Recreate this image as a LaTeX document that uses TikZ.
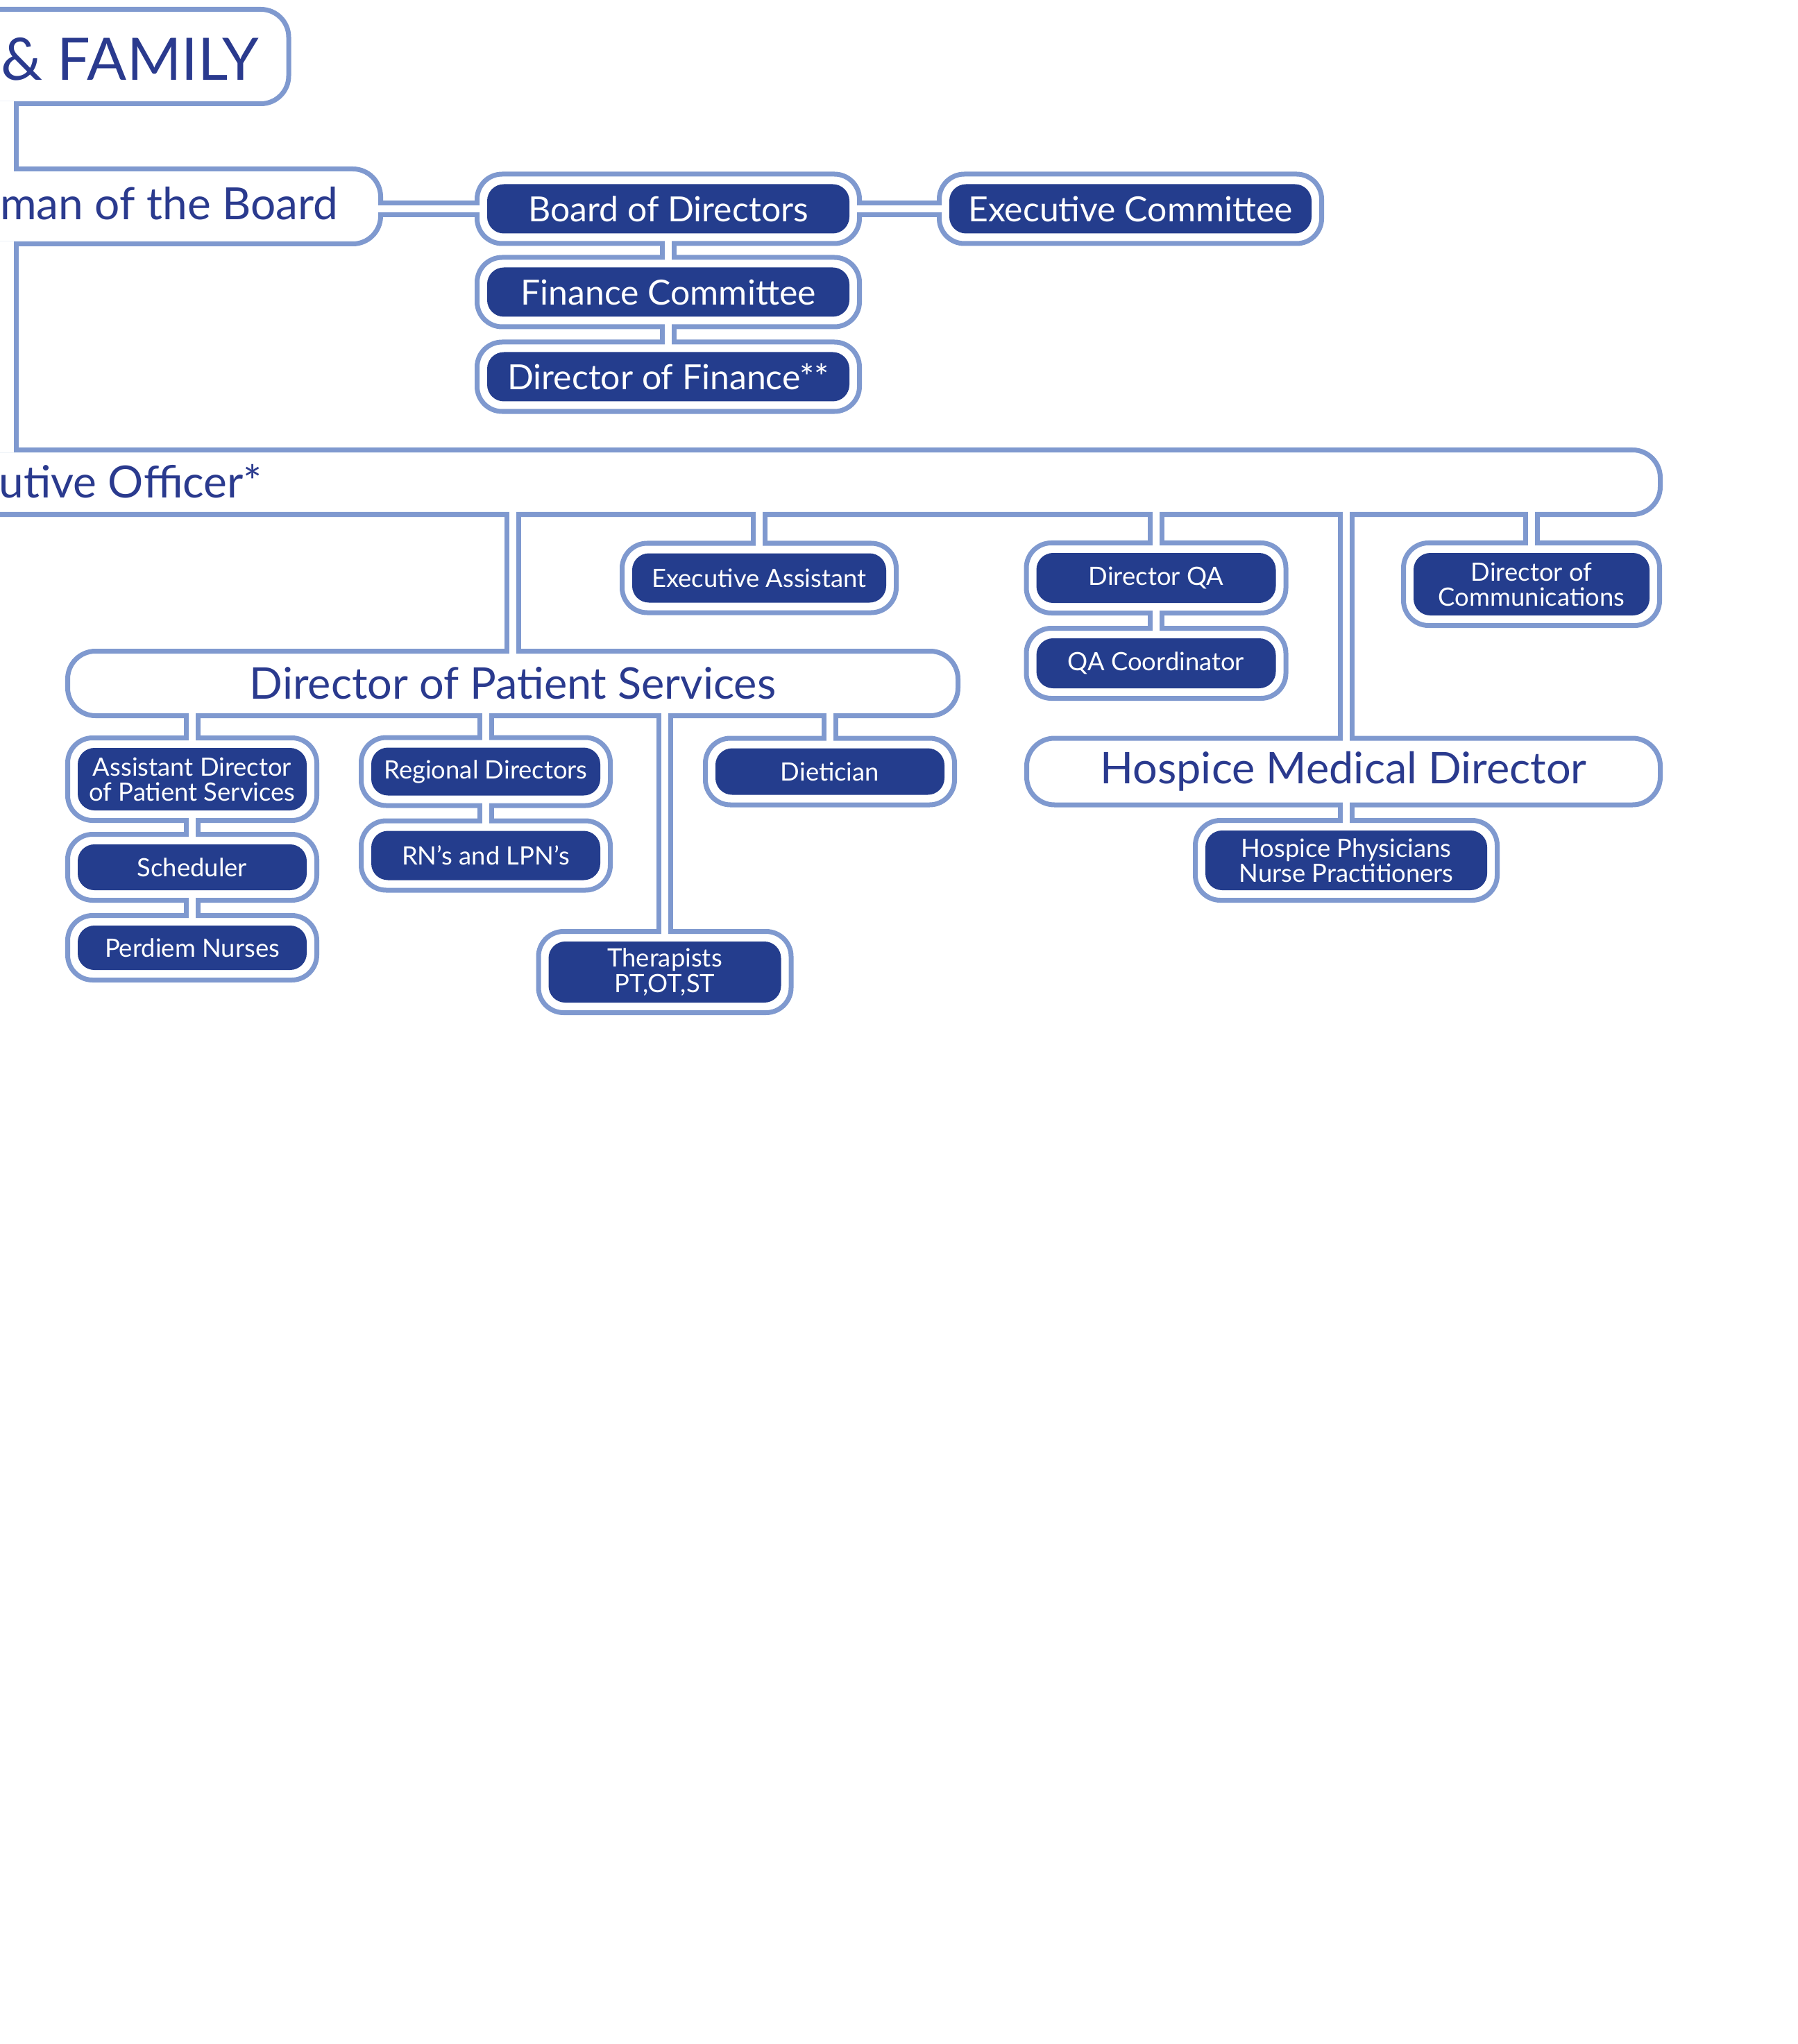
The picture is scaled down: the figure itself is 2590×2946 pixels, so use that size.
\documentclass[tikz,border=0pt]{standalone}
\usepackage{fontspec}
\setmainfont{Lato}
\definecolor{lb}{HTML}{7F99CF}
\definecolor{db}{HTML}{243D8D}
\definecolor{tb}{HTML}{2A3A8E}
\newcommand\fmed{\fontsize{14.2}{15}\selectfont}
\newcommand\fsml{\fontsize{10.35}{10.3}\selectfont}
\newcommand\fbig{\fontsize{17.9}{19}\selectfont}
\newcommand\fhuge{\fontsize{18.2}{20}\selectfont}
\newcommand\orgbox[7]{%
  \node[frm, minimum width={(#4-7)*0.01cm}, minimum height={(#5-7)*0.01cm}] (#1) at (#2,#3) {};
  \node[inb, minimum width={(#4-36)*0.01cm}, minimum height={(#5-36)*0.01cm}, font=#6] (#1-t) at (#1.center) {#7};
}
\newcommand\whbox[5]{%
  \node[wfrm, minimum width={(#4-7)*0.01cm}, minimum height={(#5-7)*0.01cm}] (#1) at (#2,#3) {};
}
\begin{document}
\begin{tikzpicture}[x=0.01cm,y=-0.01cm,
  frm/.style={draw=lb, line width=0.07cm, fill=white, rounded corners=0.36cm, outer sep=0pt, inner sep=0pt},
  wfrm/.style={draw=lb, line width=0.07cm, fill=white, rounded corners=0.4cm, outer sep=0pt, inner sep=0pt},
  inb/.style={fill=db, text=white, rounded corners=0.24cm, align=center, inner sep=0pt, outer sep=0pt},
  wtext/.style={text=tb, inner sep=0pt, outer sep=0pt},
  conn/.style={draw=lb, line width=0.24cm, postaction={draw=white, line width=0.10cm, shorten <=-0.045cm, shorten >=-0.045cm}},
  sline/.style={draw=lb, line width=0.07cm, line cap=square}
]
\useasboundingbox (0,0) rectangle (2590,2946);
\clip (0,0) rectangle (2590,2946);
\fill[white] (0,0) rectangle (2590,2946);

% big white boxes
\whbox{fam}{60}{81.5}{719}{143}
\whbox{chr}{126}{297.5}{852}{115}
\whbox{ceo}{1048}{695}{2696}{100}
\whbox{dps}{739}{985}{1290}{100}
\whbox{hmd}{1936}{1112}{920}{103}

\node[wtext, anchor=base east, font=\fontsize{24}{26}\selectfont] (famt) at (373,116) {\& FAMILY};
\node[wtext, anchor=base east, font=\fhuge] (chrt) at (487,317) {man of the Board};
\node[wtext, anchor=base east, font=\fhuge] (ceot) at (378,717) {utive Officer*};
\node[wtext, font=\fbig] (dpst) at (dps.center) {Director of Patient Services};
\node[wtext, font=\fbig] (hmdt) at (hmd.center) {Hospice Medical Director};

% dark boxes
\orgbox{bod}{963}{301}{558}{107}{\fmed}{Board of Directors}
\orgbox{exc}{1629}{301}{558}{107}{\fmed}{Executive Committee}
\orgbox{fin}{963}{421}{558}{107}{\fmed}{Finance Committee}
\orgbox{dfi}{963}{543}{558}{107}{\fmed}{Director of Finance**}
\orgbox{ea}{1094}{833}{402}{107}{\fsml}{Executive Assistant}
\orgbox{dqa}{1666}{833}{381}{108}{\fsml}{Director QA}
\orgbox{qac}{1666}{956}{381}{108}{\fsml}{QA Coordinator}
\orgbox{dcm}{2207}{842}{376}{126}{\fsml}{Director of\\Communications}
\orgbox{asd}{277}{1123}{366}{126}{\fsml}{Assistant Director\\of Patient Services}
\orgbox{sch}{277}{1250}{366}{102}{\fsml}{Scheduler}
\orgbox{pdn}{277}{1366}{366}{100}{\fsml}{Perdiem Nurses}
\orgbox{reg}{700}{1112}{366}{105}{\fsml}{Regional Directors}
\orgbox{rnl}{700}{1233}{366}{107}{\fsml}{RN’s and LPN’s}
\orgbox{die}{1196}{1112}{366}{103}{\fsml}{Dietician}
\orgbox{thr}{958}{1401}{371}{124}{\fsml}{Therapists\\PT,OT,ST}
\orgbox{hph}{1940}{1240}{442}{122}{\fsml}{Hospice Physicians\\Nurse Practitioners}

% left single lines
\coordinate (lx) at (23.5,0);
\fill[white] (-50,146) rectangle (20,247);
\fill[white] (-50,348) rectangle (20,652);
\draw[sline] (lx |- fam.south) -- (lx |- chr.north);
\draw[sline] (lx |- chr.south) -- (lx |- ceo.north);

% connectors
\draw[conn] (bod.west) -- (bod.west -| chr.east);
\draw[conn] (bod.east) -- (exc.west);
\draw[conn] (bod.south) -- (fin.north);
\draw[conn] (fin.south) -- (dfi.north);
\draw[conn] (ceo.south -| dps.north) -- (dps.north);
\draw[conn] (ceo.south -| ea.north) -- (ea.north);
\draw[conn] (ceo.south -| dqa.north) -- (dqa.north);
\draw[conn] (dqa.south) -- (qac.north);
\draw[conn] (ceo.south -| hph.north) -- (hmd.north -| hph.north);
\draw[conn] (hmd.south -| hph.north) -- (hph.north);
\draw[conn] (ceo.south -| dcm.north) -- (dcm.north);
\draw[conn] (dps.south -| asd.north) -- (asd.north);
\draw[conn] (asd.south) -- (sch.north);
\draw[conn] (sch.south) -- (pdn.north);
\draw[conn] (dps.south -| reg.north) -- (reg.north);
\draw[conn] (reg.south) -- (rnl.north);
\draw[conn] (dps.south -| die.north) -- (die.north);
\draw[conn] (dps.south -| thr.north) -- (thr.north);
\end{tikzpicture}
\end{document}
